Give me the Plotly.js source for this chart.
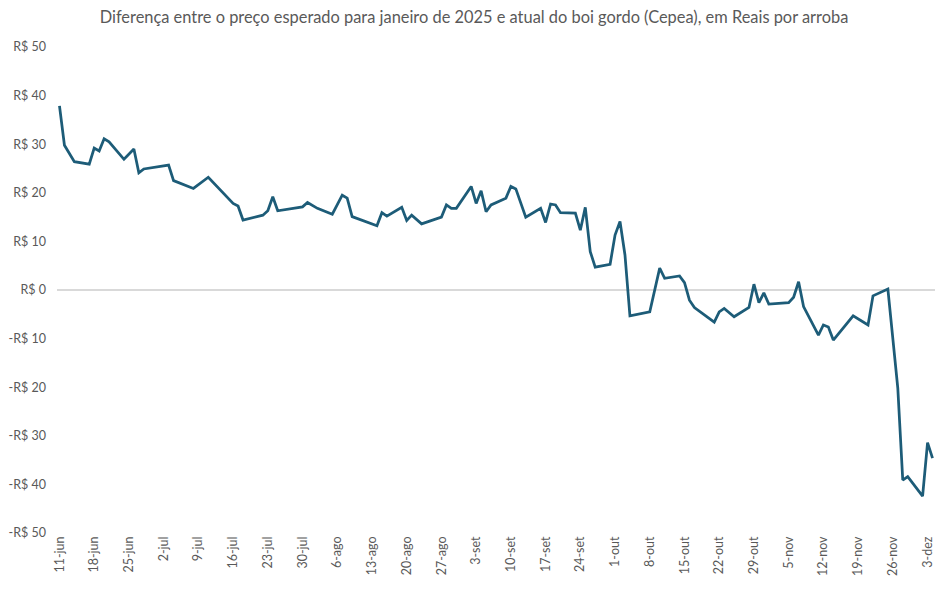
<!DOCTYPE html>
<html>
<head>
<meta charset="utf-8">
<script src="https://cdn.plot.ly/plotly-3.0.1.min.js"></script>
<style>html,body{margin:0;padding:0;background:#fff;}#chart{width:948px;height:589px;}</style>
</head>
<body>
<div id="chart"></div>
<script>
const dates = ['2024-06-11','2024-06-12','2024-06-14','2024-06-17','2024-06-18','2024-06-19','2024-06-20','2024-06-21','2024-06-24','2024-06-26','2024-06-27','2024-06-28',
'2024-07-03','2024-07-04','2024-07-08','2024-07-11','2024-07-16','2024-07-17','2024-07-18','2024-07-22','2024-07-23','2024-07-24','2024-07-25','2024-07-30','2024-07-31',
'2024-08-02','2024-08-05','2024-08-07','2024-08-08','2024-08-09','2024-08-14','2024-08-15','2024-08-16','2024-08-19','2024-08-20','2024-08-21','2024-08-23','2024-08-27','2024-08-28','2024-08-29','2024-08-30',
'2024-09-02','2024-09-03','2024-09-04','2024-09-05','2024-09-06','2024-09-09','2024-09-10','2024-09-11','2024-09-13','2024-09-16','2024-09-17','2024-09-18','2024-09-19','2024-09-20','2024-09-23','2024-09-24','2024-09-25','2024-09-26','2024-09-27','2024-09-30',
'2024-10-01','2024-10-02','2024-10-03','2024-10-04','2024-10-08','2024-10-10','2024-10-11','2024-10-14','2024-10-15','2024-10-16','2024-10-17','2024-10-21','2024-10-22','2024-10-23','2024-10-25','2024-10-28','2024-10-29','2024-10-30','2024-10-31',
'2024-11-01','2024-11-05','2024-11-06','2024-11-07','2024-11-08','2024-11-11','2024-11-12','2024-11-13','2024-11-14','2024-11-18','2024-11-21','2024-11-22','2024-11-25','2024-11-26','2024-11-27','2024-11-28','2024-11-29',
'2024-12-02','2024-12-03','2024-12-04'];

const diferenca = [37.9,29.8,26.4,25.9,29.2,28.6,31.1,30.5,26.9,29.0,24.1,24.9,
25.7,22.5,20.9,23.2,17.8,17.3,14.4,15.4,16.3,19.2,16.3,17.1,18.0,
16.8,15.6,19.5,18.9,15.1,13.2,15.9,15.2,17.0,14.3,15.4,13.6,15.0,17.5,16.8,16.8,
21.3,17.8,20.4,16.1,17.5,18.9,21.3,20.8,15.0,16.8,13.9,17.7,17.5,15.9,15.8,12.3,17.0,7.9,4.7,5.3,
11.3,14.1,7.2,-5.3,-4.5,4.5,2.4,2.9,1.5,-2.1,-3.6,-6.6,-4.5,-3.8,-5.5,-3.6,1.2,-2.6,-0.6,
-2.9,-2.6,-1.5,1.7,-3.4,-9.3,-7.2,-7.6,-10.3,-5.3,-7.2,-1.2,0.2,-10.0,-20.2,-39.1,-38.4,
-42.4,-31.4,-34.6];

const xTickDates = ['2024-06-11','2024-06-18','2024-06-25','2024-07-02','2024-07-09','2024-07-16','2024-07-23','2024-07-30','2024-08-06','2024-08-13','2024-08-20','2024-08-27','2024-09-03','2024-09-10','2024-09-17','2024-09-24','2024-10-01','2024-10-08','2024-10-15','2024-10-22','2024-10-29','2024-11-05','2024-11-12','2024-11-19','2024-11-26','2024-12-03'];
const xTickLabels = ['11-jun','18-jun','25-jun','2-jul','9-jul','16-jul','23-jul','30-jul','6-ago','13-ago','20-ago','27-ago','3-set','10-set','17-set','24-set','1-out','8-out','15-out','22-out','29-out','5-nov','12-nov','19-nov','26-nov','3-dez'];

const yTickVals = [50,40,30,20,10,0,-10,-20,-30,-40,-50];
const yTickLabels = ['R$ 50','R$ 40','R$ 30','R$ 20','R$ 10','R$ 0','-R$ 10','-R$ 20','-R$ 30','-R$ 40','-R$ 50'];

const titleText = 'Diferença entre o preço esperado para janeiro de 2025 e atual do boi gordo (Cepea), em Reais por arroba';

const fontFam = 'Lato, "Open Sans", sans-serif';
const gray = '#595959';

Plotly.newPlot('chart', [{
  x: dates, y: diferenca, type: 'scatter', mode: 'lines',
  line: {color: '#1d5c78', width: 2.75},
  hoverinfo: 'x+y'
}], {
  width: 948, height: 589,
  margin: {l: 57, r: 13, t: 47, b: 56},
  paper_bgcolor: '#ffffff', plot_bgcolor: '#ffffff',
  title: {text: titleText, x: 0.5, xref: 'container', xanchor: 'center', y: 0.97, yref: 'container', yanchor: 'middle',
          font: {family: fontFam, size: 16.4, color: gray}},
  showlegend: false,
  xaxis: {
    type: 'date', range: ['2024-06-10 12:00', '2024-12-04 12:00'],
    tickmode: 'array', tickvals: xTickDates, ticktext: xTickLabels, tickangle: -90,
    showgrid: false, zeroline: false, showline: false, ticks: '',
    tickfont: {family: fontFam, size: 12.5, color: gray}
  },
  yaxis: {
    range: [-50, 50], tickmode: 'array', tickvals: yTickVals, ticktext: yTickLabels,
    showgrid: false, zeroline: true, zerolinecolor: '#d9d9d9', zerolinewidth: 1.3,
    showline: false, ticks: '', ticklabelstandoff: 10,
    tickfont: {family: fontFam, size: 12.5, color: gray}
  }
}, {displayModeBar: false, staticPlot: true});
</script>
</body>
</html>
